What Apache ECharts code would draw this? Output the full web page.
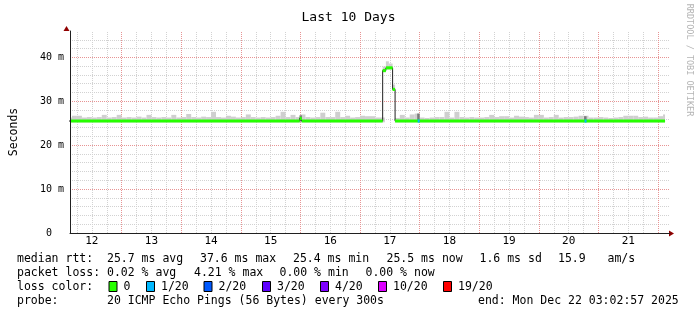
<!DOCTYPE html>
<html>
<head>
<meta charset="utf-8">
<script src="https://cdn.jsdelivr.net/npm/echarts@6/dist/echarts.min.js"></script>
<style>
  html, body { margin: 0; padding: 0; background: #fff; }
  #chart { width: 697px; height: 315px; }
</style>
</head>
<body>
<div id="chart"></div>
<script>
// time is counted in hours from Dec 12 00:00
const dayNoonHours = [12, 36, 60, 84, 108, 132, 156, 180, 204, 228]
const dayLabels = ['12', '13', '14', '15', '16', '17', '18', '19', '20', '21']
const minorGridHours = [6, 12, 18, 30, 36, 42, 54, 60, 66, 78, 84, 90, 102, 108, 114, 126, 132, 138,
  150, 156, 162, 174, 180, 186, 198, 204, 210, 222, 228, 234]
const majorGridHours = [24, 48, 72, 96, 120, 144, 168, 192, 216, 240]
const minorGridMs = [2, 4, 6, 8, 12, 14, 16, 18, 22, 24, 26, 28, 32, 34, 36, 38, 42, 44]
const majorGridMs = [10, 20, 30, 40]

// median rtt (ms), step changes
const medianTimes = [2, 95.7, 96.5, 129.1, 130.4, 133.1, 134.1, 242.8]
const medianValues = [25.5, 26.1, 25.5, 37.0, 37.6, 32.7, 25.5, 25.5]

// packet loss events: [from, to, loss level index]
const lossEvents = [[143.2, 144.0, 1], [210.4, 211.2, 1]]
const lossLabels = ['0', '1/20', '2/20', '3/20', '4/20', '10/20', '19/20']
const lossColors = ['#26ff00', '#00b8ff', '#0059ff', '#5e00ff', '#7e00ff', '#dd00ff', '#ff0000']

// smoke: 2 hour bins starting at hour 2, upper edge of the ping spread (ms)
const smokeStart = 2
const smokeStep = 2
const smokeFloor = 25.2
const smokeHi = [
  26.3, 26.7, 26.7, 26.3, 26.4, 26.3, 26.4, 26.9, 26.3, 26.4, 26.9, 26.3, 26.4, 26.3, 26.5, 26.3, 26.9, 26.4, 26.3, 26.4,
  26.3, 26.9, 26.3, 26.4, 27.1, 26.4, 26.3, 26.5, 26.4, 27.6, 26.4, 26.3, 26.7, 26.5, 26.3, 26.4, 27.0, 26.4, 26.3, 26.4,
  26.3, 26.4, 26.7, 27.6, 26.4, 26.9, 26.4, 27.0, 26.4, 26.3, 26.4, 27.4, 26.4, 26.4, 27.6, 26.4, 26.7, 26.3, 26.4, 26.7,
  26.6, 26.6, 26.3, 26.3, null, null, 26.2, 26.9, 26.3, 27.0, 27.2, 26.3, 26.2, 26.3, 26.4, 26.4, 27.6, 26.3, 27.6, 26.4,
  26.3, 26.4, 26.3, 26.3, 26.4, 26.9, 26.4, 26.6, 26.6, 26.3, 26.7, 26.5, 26.4, 26.3, 26.9, 26.9, 26.3, 26.4, 26.9, 26.3,
  26.4, 26.4, 26.5, 26.7, 26.7, 26.3, 26.3, 26.4, 26.3, 26.2, 26.3, 26.4, 26.7, 26.7, 26.7, 26.4, 26.5, 26.3, 26.3, 26.6,
  27.0
]
// smoke during the latency spike: [from, to, low, high]
const spikeSmoke = [[129.1, 130.4, 36.6, 37.9], [130.4, 131.6, 37.3, 39.1], [131.6, 133.1, 37.3, 38.6], [133.1, 134.1, 32.4, 33.8]]
// darker smoke where pings were lost
const darkSmoke = [[95.6, 96.6, 25.4, 26.8], [143.0, 144.0, 25.3, 27.2], [210.2, 211.2, 25.3, 26.6]]

const dataEnd = 242.8
const xMin = 3.2
const xMax = 244.8
const yMax = 46

const mono = 'DejaVu Sans Mono'
const minorColor = '#d2d2d2'
const majorColor = '#e79494'

function medianAt(t) {
  let v = medianValues[0]
  for (let k = 0; k < medianTimes.length; k++) {
    if (medianTimes[k] <= t) v = medianValues[k]
  }
  return v
}

function rectItem(params, api, x0, x1, lo, hi, color) {
  const p0 = api.coord([x0, hi])
  const p1 = api.coord([x1, lo])
  const shape = echarts.graphic.clipRectByRect(
    { x: p0[0], y: p0[1], width: p1[0] - p0[0], height: p1[1] - p0[1] },
    { x: params.coordSys.x + 1, y: params.coordSys.y, width: params.coordSys.width - 1, height: params.coordSys.height }
  )
  return shape && { type: 'rect', shape: shape, style: { fill: color } }
}

const smokeData = []
smokeHi.forEach((hi, i) => {
  if (hi === null) return
  const t = smokeStart + i * smokeStep
  smokeData.push([t, Math.min(t + smokeStep, dataEnd), smokeFloor, hi, 0])
})
spikeSmoke.forEach(s => smokeData.push([s[0], s[1], s[2], s[3], 0]))
darkSmoke.forEach(s => smokeData.push([s[0], s[1], s[2], s[3], 1]))

const bandData = []
for (let k = 0; k < medianTimes.length - 1; k++) {
  bandData.push([medianTimes[k], medianTimes[k + 1], medianValues[k], 0])
}
lossEvents.forEach(e => bandData.push([e[0], e[1], medianAt(e[0]), e[2]]))

const medianLine = medianTimes.map((t, k) => [t, medianValues[k]])

// legend texts
const legendFont = '11.5px "' + mono + '"'
const legendTexts = [
  [17, 259, 'median rtt:'], [107, 259, '25.7 ms avg'], [200, 259, '37.6 ms max'], [293, 259, '25.4 ms min'],
  [386.5, 259, '25.5 ms now'], [479.5, 259, '1.6 ms sd'], [558, 259, '15.9'], [607.5, 259, 'am/s'],
  [17, 273, 'packet loss:'], [107, 273, '0.02 % avg'], [194, 273, '4.21 % max'], [279.5, 273, '0.00 % min'],
  [365.5, 273, '0.00 % now'],
  [17, 287, 'loss color:'],
  [17, 301, 'probe:'], [107, 301, '20 ICMP Echo Pings (56 Bytes) every 300s'], [478, 301, 'end: Mon Dec 22 03:02:57 2025']
]
const swatchX = [108.5, 146, 203.5, 262, 320, 378, 443]

const graphics = []
legendTexts.forEach(t => {
  graphics.push({
    type: 'text', x: t[0], y: t[1], silent: true,
    style: { text: t[2], font: legendFont, fill: '#000', textVerticalAlign: 'middle' }
  })
})
swatchX.forEach((x, i) => {
  graphics.push({
    type: 'rect', silent: true,
    shape: { x: x + 0.5, y: 281.5, width: 8, height: 10 },
    style: { fill: lossColors[i], stroke: '#000', lineWidth: 1 }
  })
  graphics.push({
    type: 'text', x: x + 15, y: 287, silent: true,
    style: { text: lossLabels[i], font: legendFont, fill: '#000', textVerticalAlign: 'middle' }
  })
})
// axis arrows
graphics.push({
  type: 'polygon', silent: true,
  shape: { points: [[66.5, 26], [63.5, 31], [69.5, 31]] },
  style: { fill: '#900000' }
})
graphics.push({
  type: 'polygon', silent: true,
  shape: { points: [[674, 233.5], [669, 230.5], [669, 236.5]] },
  style: { fill: '#900000' }
})
graphics.push({
  type: 'text', x: 689, y: 60, rotation: -Math.PI / 2, silent: true,
  style: {
    text: 'RRDTOOL / TOBI OETIKER', font: '8.5px "' + mono + '"', fill: '#b4b4b4',
    textAlign: 'center', textVerticalAlign: 'middle'
  }
})

// grid lines as mark lines, kept underneath the smoke and the median
function gridLines(name, vertical, values, color) {
  return {
    name: name,
    type: 'line',
    z: 1,
    silent: true,
    symbol: 'none',
    data: [],
    markLine: {
      z: 1,
      silent: true,
      symbol: ['none', 'none'],
      animation: false,
      label: { show: false },
      lineStyle: { color: color, width: 1, type: [1, 1], opacity: 1 },
      emphasis: { disabled: true },
      data: values.map(v => (vertical ? { xAxis: v } : { yAxis: v }))
    }
  }
}

const chart = echarts.init(document.getElementById('chart'))

const option = {
  animation: false,
  backgroundColor: '#fff',
  title: {
    text: 'Last 10 Days',
    left: 'center',
    top: 6,
    textStyle: { fontFamily: mono, fontSize: 13, fontWeight: 'normal', color: '#000' }
  },
  grid: { left: 66, right: 27, top: 31, bottom: 82 },
  xAxis: {
    type: 'value',
    min: xMin,
    max: xMax,
    z: 3,
    axisLine: { onZero: false, lineStyle: { color: '#202020', width: 1 } },
    axisTick: { show: false },
    splitLine: { show: false },
    axisLabel: {
      customValues: dayNoonHours,
      margin: 3,
      fontFamily: mono,
      fontSize: 11,
      color: '#000',
      formatter: v => dayLabels[dayNoonHours.indexOf(v)] || ''
    }
  },
  yAxis: {
    type: 'value',
    min: 0,
    max: yMax,
    interval: 10,
    z: 3,
    name: 'Seconds',
    nameLocation: 'middle',
    nameRotate: 90,
    nameGap: 50,
    nameTextStyle: { fontFamily: mono, fontSize: 11.5, color: '#000' },
    axisLine: { show: true, onZero: false, lineStyle: { color: '#202020', width: 1 } },
    axisTick: { show: false },
    splitLine: { show: false },
    axisLabel: {
      margin: 6,
      fontFamily: mono,
      fontSize: 10,
      color: '#000',
      formatter: v => (v % 10 !== 0 ? '' : v === 0 ? '0  ' : v + ' m')
    }
  },
  graphic: graphics,
  series: [
    gridLines('minor x grid', true, minorGridHours, minorColor),
    gridLines('minor y grid', false, minorGridMs, minorColor),
    gridLines('major x grid', true, majorGridHours, majorColor),
    gridLines('major y grid', false, majorGridMs, majorColor),
    {
      name: 'smoke',
      type: 'custom',
      z: 2,
      silent: true,
      data: smokeData,
      encode: { x: [0, 1], y: [2, 3] },
      renderItem: (params, api) => rectItem(params, api, api.value(0), api.value(1), api.value(2), api.value(3),
        api.value(4) ? '#7a7a7a' : '#cfcfcf')
    },
    {
      name: 'median',
      type: 'line',
      z: 3,
      silent: true,
      step: 'end',
      symbol: 'none',
      data: medianLine,
      lineStyle: { color: '#202020', width: 1 }
    },
    {
      name: 'loss',
      type: 'custom',
      z: 4,
      silent: true,
      data: bandData,
      encode: { x: [0, 1], y: 2 },
      renderItem: (params, api) => rectItem(params, api, api.value(0), api.value(1),
        api.value(2) - 0.36, api.value(2) + 0.36, lossColors[api.value(3)])
    }
  ]
}

chart.setOption(option)
</script>
</body>
</html>
